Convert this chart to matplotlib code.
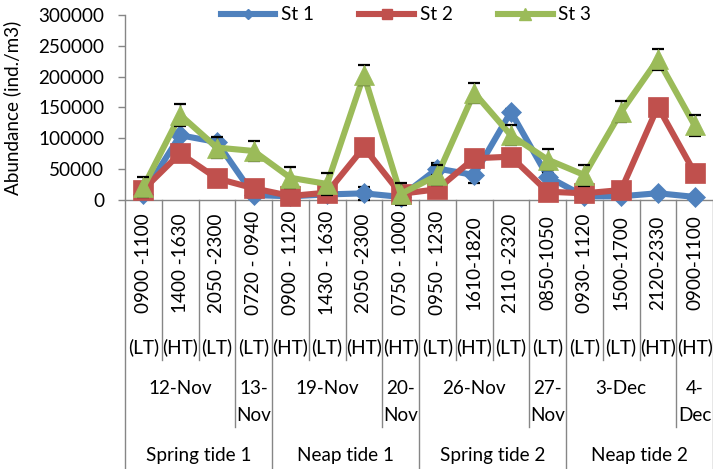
import matplotlib
matplotlib.use("Agg")
import matplotlib.pyplot as plt
from matplotlib.transforms import blended_transform_factory
from matplotlib.lines import Line2D

plt.rcParams['font.family'] = ['Lato', 'DejaVu Sans']

# ---------------- data ----------------
times = ['0900 -1100', '1400 -1630', '2050 -2300', '0720 - 0940',
         '0900 - 1120', '1430 - 1630', '2050 -2300', '0750 - 1000',
         '0950 - 1230', '1610-1820', '2110 -2320', '0850-1050',
         '0930- 1120', '1500-1700', '2120-2330', '0900-1100']
tides = ['(LT)', '(HT)', '(LT)', '(LT)', '(HT)', '(LT)', '(HT)', '(HT)',
         '(LT)', '(HT)', '(LT)', '(LT)', '(LT)', '(LT)', '(HT)', '(HT)']
date_labels = ['12-Nov', '13-Nov', '19-Nov', '20-Nov', '26-Nov', '27-Nov', '3-Dec', '4-Dec']
date_spans = [3, 1, 3, 1, 3, 1, 3, 1]
period_labels = ['Spring tide 1', 'Neap tide 1', 'Spring tide 2', 'Neap tide 2']
period_spans = [4, 4, 4, 4]

st1 = [10000, 105000, 94000, 8000, 6000, 9000, 10800, 5000,
       51000, 40500, 143000, 38000, 6000, 6000, 11000, 5000]
st1_err = [3000, 16000, 5000, 3000, 3000, 3000, 10700, 3000,
           9000, 12500, 5000, 5000, 3000, 3000, 3000, 3000]
st2 = [17000, 75700, 35000, 19000, 6500, 12000, 85400, 10000,
       17400, 67600, 70300, 13500, 10800, 16200, 151400, 44300]
st2_err = [5000] * 16
st3 = [21000, 138000, 85000, 79500, 36000, 26000, 203000, 9700,
       40000, 174000, 105000, 65500, 40500, 143000, 228000, 121000]
st3_err = [16800, 17700, 17700, 16700, 17000, 17400, 15900, 17400,
           16000, 16500, 16200, 16800, 17000, 17300, 17000, 16800]

series_names = ['St 1', 'St 2', 'St 3']
colors = ['#4F81BD', '#C0504D', '#9BBB59']
markers = ['D', 's', '^']
msizes = [10, 14, 15]

# ---------------- figure ----------------
W, H = 713, 469
fig = plt.figure(figsize=(W / 100, H / 100), dpi=100)
ax = fig.add_axes([125 / W, 1 - 200 / H, (713 - 125) / W, 185 / H])

x = list(range(len(times)))
data = [st1, st2, st3]
errs = [st1_err, st2_err, st3_err]
FS = 13.6

for k, (vals, err) in enumerate(zip(data, errs)):
    base = 3 + 3 * k
    ax.plot(x, vals, color=colors[k], lw=4.4, solid_joinstyle='round',
            zorder=base, clip_on=False)
    ax.errorbar(x, vals, yerr=err, fmt='none', ecolor='black', elinewidth=1.0,
                capsize=4.3, capthick=1.6, zorder=base + 1, clip_on=False)
    ax.plot(x, vals, ls='none', marker=markers[k], ms=msizes[k], mfc=colors[k],
            mec=colors[k], mew=0.5, zorder=base + 2, clip_on=False)

ax.set_xlim(-0.5, len(times) - 0.5)
ax.set_ylim(0, 300000)
ax.set_yticks(range(0, 300001, 50000))
ax.set_yticklabels([str(v) for v in range(0, 300001, 50000)], fontsize=FS)
ax.tick_params(axis='y', length=5, width=1, color='#868686', pad=10)
ax.set_xticks([])
for s in ['top', 'right']:
    ax.spines[s].set_visible(False)
ax.spines['left'].set_visible(False)
ax.spines['bottom'].set_color('#868686')
ax.spines['bottom'].set_linewidth(1)
ax.set_ylabel('Abundance (ind./m3)', fontsize=FS, labelpad=6)
ax.yaxis.set_label_coords(-104 / 588, 0.5)

# ---------------- multi-level category axis ----------------
tr = blended_transform_factory(ax.transData, fig.transFigure)
fy = lambda py: 1 - py / H
gray = '#868686'

date_bounds = [0]
for s in date_spans:
    date_bounds.append(date_bounds[-1] + s)
period_bounds = [0]
for s in period_spans:
    period_bounds.append(period_bounds[-1] + s)

for b in range(len(times) + 1):
    if b in period_bounds:
        y_end = 469
    elif b in date_bounds:
        y_end = 427
    else:
        y_end = 360
    y_start = 15 if b == 0 else 200
    ax.add_line(Line2D([b - 0.5, b - 0.5], [fy(y_start), fy(y_end)], transform=tr,
                       color=gray, lw=1, clip_on=False, zorder=1))

for i, (t, td) in enumerate(zip(times, tides)):
    ax.text(i, fy(263), t, transform=tr, rotation=90, ha='center', va='center',
            fontsize=FS)
    ax.text(i, fy(347), td, transform=tr, ha='center', va='center', fontsize=FS)

for lab, a, b in zip(date_labels, date_bounds[:-1], date_bounds[1:]):
    cx = (a + b - 1) / 2
    if b - a == 1:
        p1, p2 = lab.split('-')
        ax.text(cx, fy(388), p1 + '-', transform=tr, ha='center', va='center', fontsize=FS)
        ax.text(cx, fy(415), p2, transform=tr, ha='center', va='center', fontsize=FS)
    else:
        ax.text(cx, fy(388), lab, transform=tr, ha='center', va='center', fontsize=FS)

for lab, a, b in zip(period_labels, period_bounds[:-1], period_bounds[1:]):
    cx = (a + b - 1) / 2
    ax.text(cx, fy(455), lab, transform=tr, ha='center', va='center', fontsize=FS)

# ---------------- legend ----------------
handles = [Line2D([], [], color=colors[k], lw=4.4, marker=markers[k], ms=msizes[k],
                  mfc=colors[k], mec=colors[k]) for k in range(3)]
fig.legend(handles, series_names, loc='center', ncol=3,
           bbox_to_anchor=(406 / W, fy(15)), frameon=False, fontsize=FS,
           handlelength=2.9, handletextpad=0.3, columnspacing=2.4,
           markerscale=0.55, borderpad=0)

fig.savefig('out.png', dpi=100)
